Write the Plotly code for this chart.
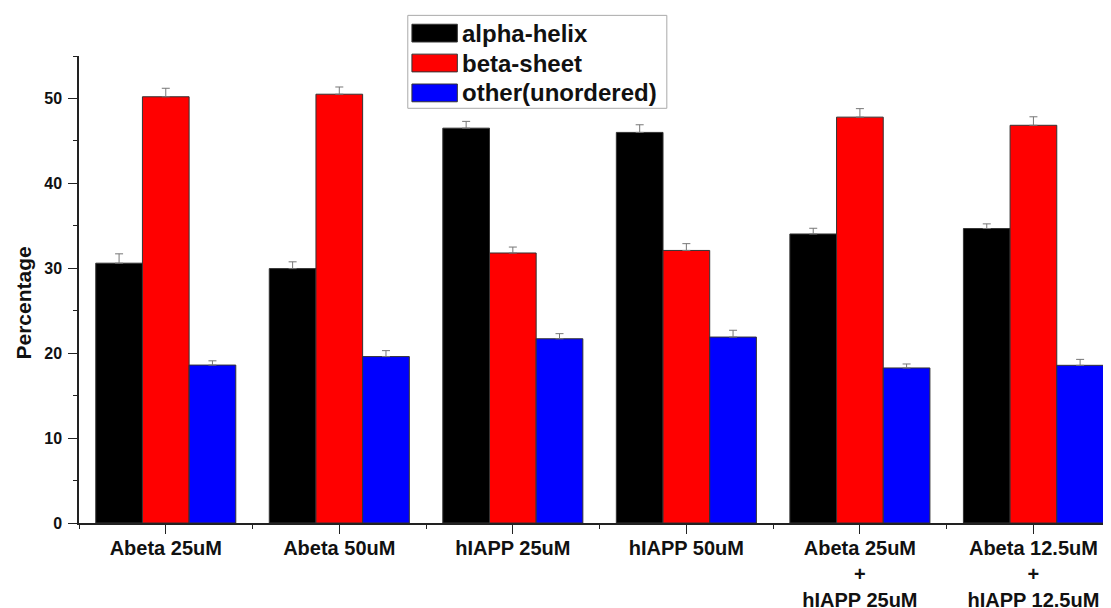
import plotly.graph_objects as go

categories = ["Abeta 25uM", "Abeta 50uM", "hIAPP 25uM", "hIAPP 50uM",
              "Abeta 25uM<br>+<br>hIAPP 25uM", "Abeta 12.5uM<br>+<br>hIAPP 12.5uM"]
x_pos = [0, 1, 2, 3, 4, 5]

series_names = ["alpha-helix", "beta-sheet", "other(unordered)"]
series_colors = ["#000000", "#ff0000", "#0000ff"]

alpha_helix = [30.6, 29.96, 46.5, 46.0, 34.04, 34.68]
alpha_err = [1.1, 0.8, 0.8, 0.9, 0.67, 0.55]
beta_sheet = [50.2, 50.5, 31.8, 32.1, 47.8, 46.84]
beta_err = [1.0, 0.85, 0.7, 0.8, 1.0, 1.0]
other = [18.6, 19.6, 21.7, 21.9, 18.26, 18.57]
other_err = [0.5, 0.7, 0.6, 0.8, 0.47, 0.7]

values = [alpha_helix, beta_sheet, other]
errors = [alpha_err, beta_err, other_err]

y_title = "Percentage"
FONT = "Liberation Sans, Arial"

fig = go.Figure()
for name, color, vals, errs in zip(series_names, series_colors, values, errors):
    fig.add_trace(go.Bar(
        x=x_pos, y=vals, name=name,
        marker=dict(color=color, line=dict(color="#333333", width=1)),
        error_y=dict(type="data", array=errs, arrayminus=[0] * len(errs),
                     symmetric=False, color="#777777", thickness=1, width=4),
        showlegend=False,
    ))

# custom legend (large swatches as in the reference)
lx0, ly_top = 0.3186, 1.087
shapes = [dict(type="rect", xref="paper", yref="paper",
               x0=lx0, x1=lx0 + 0.251, y0=ly_top - 0.199, y1=ly_top,
               line=dict(color="#aaaaaa", width=1), fillcolor="white", layer="above")]
annotations = []
for i, (name, color) in enumerate(zip(series_names, series_colors)):
    yc = ly_top - 0.038 - i * 0.064
    shapes.append(dict(type="rect", xref="paper", yref="paper",
                       x0=lx0 + 0.004, x1=lx0 + 0.048, y0=yc - 0.019, y1=yc + 0.019,
                       line=dict(color="#333333", width=1), fillcolor=color, layer="above"))
    annotations.append(dict(xref="paper", yref="paper", x=lx0 + 0.051, y=yc,
                            text="<b>" + name + "</b>", showarrow=False,
                            xanchor="left", yanchor="middle",
                            font=dict(family=FONT, size=24, color="#111111")))

# y-axis title placed as in the reference (slightly below the axis middle)
annotations.append(dict(xref="paper", yref="paper", x=-0.054, y=0.4705,
                        text="<b>" + y_title + "</b>", showarrow=False, textangle=-90,
                        xanchor="center", yanchor="middle",
                        font=dict(family=FONT, size=21, color="#111111")))

# the page body adds an 8px margin, so the figure is sized/offset to compensate
fig.update_layout(
    width=1103, height=600,
    margin=dict(l=71, r=0, t=48, b=85),
    paper_bgcolor="white", plot_bgcolor="white",
    barmode="group", bargap=0.193, bargroupgap=0,
    font=dict(family=FONT, color="#111111"),
    shapes=shapes, annotations=annotations,
    xaxis=dict(
        automargin=False,
        range=[-0.5, 5.447], tickmode="array", tickvals=x_pos,
        ticktext=categories,
        ticks="outside", ticklen=9, tickwidth=1.2, tickcolor="#222222",
        showline=True, linecolor="#222222", linewidth=1.5,
        showgrid=False, zeroline=False,
        tickfont=dict(size=20, family=FONT, color="#111111", weight="bold"),
        ticklabelstandoff=-3,
        minor=dict(tickmode="linear", tick0=0.5, dtick=1, ticks="outside",
                   ticklen=4, tickwidth=1.2, tickcolor="#222222", showgrid=False),
    ),
    yaxis=dict(
        automargin=False,
        range=[0, 55], tickmode="linear", tick0=0, dtick=10,
        ticks="outside", ticklen=9, tickwidth=1.2, tickcolor="#222222",
        showline=True, linecolor="#222222", linewidth=1.5,
        showgrid=False, zeroline=False,
        tickfont=dict(size=16, family=FONT, color="#111111", weight="bold"),
        ticklabelstandoff=3,
        minor=dict(tickmode="linear", tick0=5, dtick=10, ticks="outside",
                   ticklen=4, tickwidth=1.2, tickcolor="#222222", showgrid=False),
    ),
)

fig.write_html("out.html")
